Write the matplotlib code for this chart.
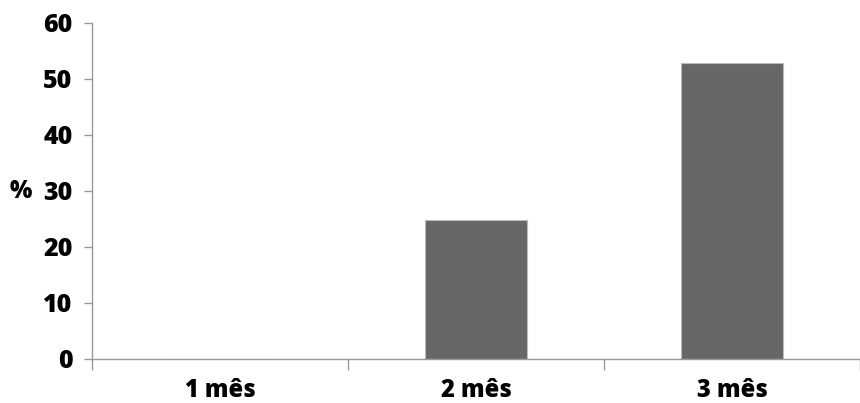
import matplotlib
matplotlib.use("Agg")
import matplotlib.pyplot as plt

categories = ["1 mês", "2 mês", "3 mês"]
values = [0, 24.8, 52.8]
yticks = [0, 10, 20, 30, 40, 50, 60]

plt.rcParams['font.family'] = ['Open Sans', 'DejaVu Sans']
fig = plt.figure(figsize=(8.6, 4.03), dpi=100)
ax = fig.add_axes([92/860, 1-359/403, 1-92/860, (359-23)/403])
x = list(range(len(categories)))
ax.bar(x, values, width=0.40, color='#666666', edgecolor='#bbbbbb', linewidth=0.8, zorder=2)
ax.set_xlim(-0.5, 2.5)
ax.set_ylim(0, 60)
ax.set_yticks(yticks)
ax.set_yticklabels([str(v) for v in yticks], fontsize=18, fontweight='heavy')
ax.set_xticks([-0.5, 0.5, 1.5, 2.5], minor=False)
ax.set_xticklabels([])
ax.set_xticks(x, minor=True)
ax.set_xticklabels(categories, minor=True, fontsize=17, fontweight='heavy')
ax.tick_params(axis='x', which='minor', length=0, pad=14)
ax.tick_params(axis='x', which='major', length=8, color='#999999', width=1)
ax.tick_params(axis='y', length=6, color='#999999', width=1, pad=8)
for s in ['top', 'right']:
    ax.spines[s].set_visible(False)
for s in ['left', 'bottom']:
    ax.spines[s].set_color('#999999')
    ax.spines[s].set_linewidth(1)
ax.set_ylabel('%', rotation=0, fontsize=17, fontweight='heavy', labelpad=16, va='center')
fig.savefig('out.png', dpi=100)
